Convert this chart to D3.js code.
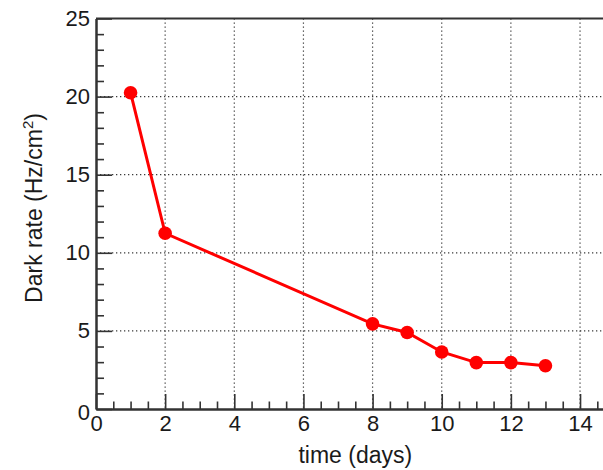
<!DOCTYPE html>
<html><head><meta charset="utf-8">
<script src="https://cdn.jsdelivr.net/npm/d3@7"></script>
<style>
html,body{margin:0;padding:0;background:#fff;overflow:hidden}
svg{display:block}
text{font-family:"Liberation Sans",Arial,Helvetica,sans-serif;fill:#1a1a1a}
</style></head>
<body>
<svg id="c" width="603" height="470"></svg>
<script>
const days = [1, 2, 8, 9, 10, 11, 12, 13];
const darkRate = [20.25, 11.25, 5.45, 4.9, 3.65, 2.97, 2.97, 2.77];
const xMajorTicks = [0, 2, 4, 6, 8, 10, 12, 14];
const yMajorTicks = [0, 5, 10, 15, 20, 25];
const xTitle = "time (days)";
const yTitle = "Dark rate (Hz/cm";

const svg = d3.select("#c");
const L = 96, R = 614.6, T = 18.5, B = 409;
const x = d3.scaleLinear().domain([0, 15]).range([L, R]);
const y = d3.scaleLinear().domain([0, 25]).range([B, T]);

// grid
const grid = svg.append("g").attr("stroke", "#3a3a3a").attr("stroke-width", 1.2)
  .attr("stroke-dasharray", "1.3,2.7");
grid.selectAll("line.gx").data(xMajorTicks.filter(d => d > 0)).join("line")
  .attr("x1", d => x(d)).attr("x2", d => x(d)).attr("y1", T).attr("y2", B);
grid.selectAll("line.gy").data(yMajorTicks.filter(d => d > 0 && d < 25)).join("line")
  .attr("y1", d => y(d)).attr("y2", d => y(d)).attr("x1", L).attr("x2", R);

// frame top
svg.append("line").attr("x1", L).attr("x2", R).attr("y1", T).attr("y2", T)
  .attr("stroke", "#333").attr("stroke-width", 2);

function style(g) {
  g.selectAll("path.domain").attr("stroke", "#333").attr("stroke-width", 2);
  g.selectAll(".tick line").attr("stroke", "#333").attr("stroke-width", 1.6);
  g.selectAll("text").attr("font-size", 22).attr("fill", "#1a1a1a")
    .attr("font-family", "Liberation Sans, Arial, sans-serif");
}

// x axis minor + major
const xMinor = d3.range(0, 15.01, 0.5).filter(v => v % 2 !== 0);
svg.append("g").attr("transform", `translate(0,${B})`)
  .call(d3.axisBottom(x).tickValues(xMinor).tickSize(-7.5).tickFormat("").tickSizeOuter(0))
  .call(style);
svg.append("g").attr("transform", `translate(0,${B})`)
  .call(d3.axisBottom(x).tickValues(xMajorTicks).tickSize(-15).tickSizeOuter(0).tickPadding(6.5).tickFormat(d3.format("d")))
  .call(style);

// y axis minor + major
const yMinor = d3.range(0, 25.01, 1).filter(v => v % 5 !== 0);
svg.append("g").attr("transform", `translate(${L},0)`)
  .call(d3.axisLeft(y).tickValues(yMinor).tickSize(-8).tickFormat("").tickSizeOuter(0))
  .call(style);
const yAx = svg.append("g").attr("transform", `translate(${L},0)`)
  .call(d3.axisLeft(y).tickValues(yMajorTicks).tickSize(-16).tickSizeOuter(0).tickPadding(6).tickFormat(d3.format("d")))
  .call(style);
yAx.selectAll(".tick").filter(d => d === 0).select("text").attr("y", 3);

// titles
svg.append("text").attr("x", (L + R) / 2).attr("y", 463).attr("text-anchor", "middle")
  .attr("font-size", 23).text(xTitle);
const yt = svg.append("text").attr("transform", `translate(42,208) rotate(-90)`)
  .attr("text-anchor", "middle").attr("font-size", 23);
yt.append("tspan").text(yTitle);
yt.append("tspan").attr("dy", -9).attr("font-size", 15).text("2");
yt.append("tspan").attr("dy", 9).text(")");

// data
const pts = days.map((d, i) => [d, darkRate[i]]);
svg.append("path").datum(pts)
  .attr("fill", "none").attr("stroke", "#ff0000").attr("stroke-width", 3)
  .attr("d", d3.line().x(d => x(d[0])).y(d => y(d[1])));
svg.selectAll("circle.m").data(pts).join("circle")
  .attr("cx", d => x(d[0])).attr("cy", d => y(d[1])).attr("r", 6.8).attr("fill", "#ff0000");
</script>
</body></html>
